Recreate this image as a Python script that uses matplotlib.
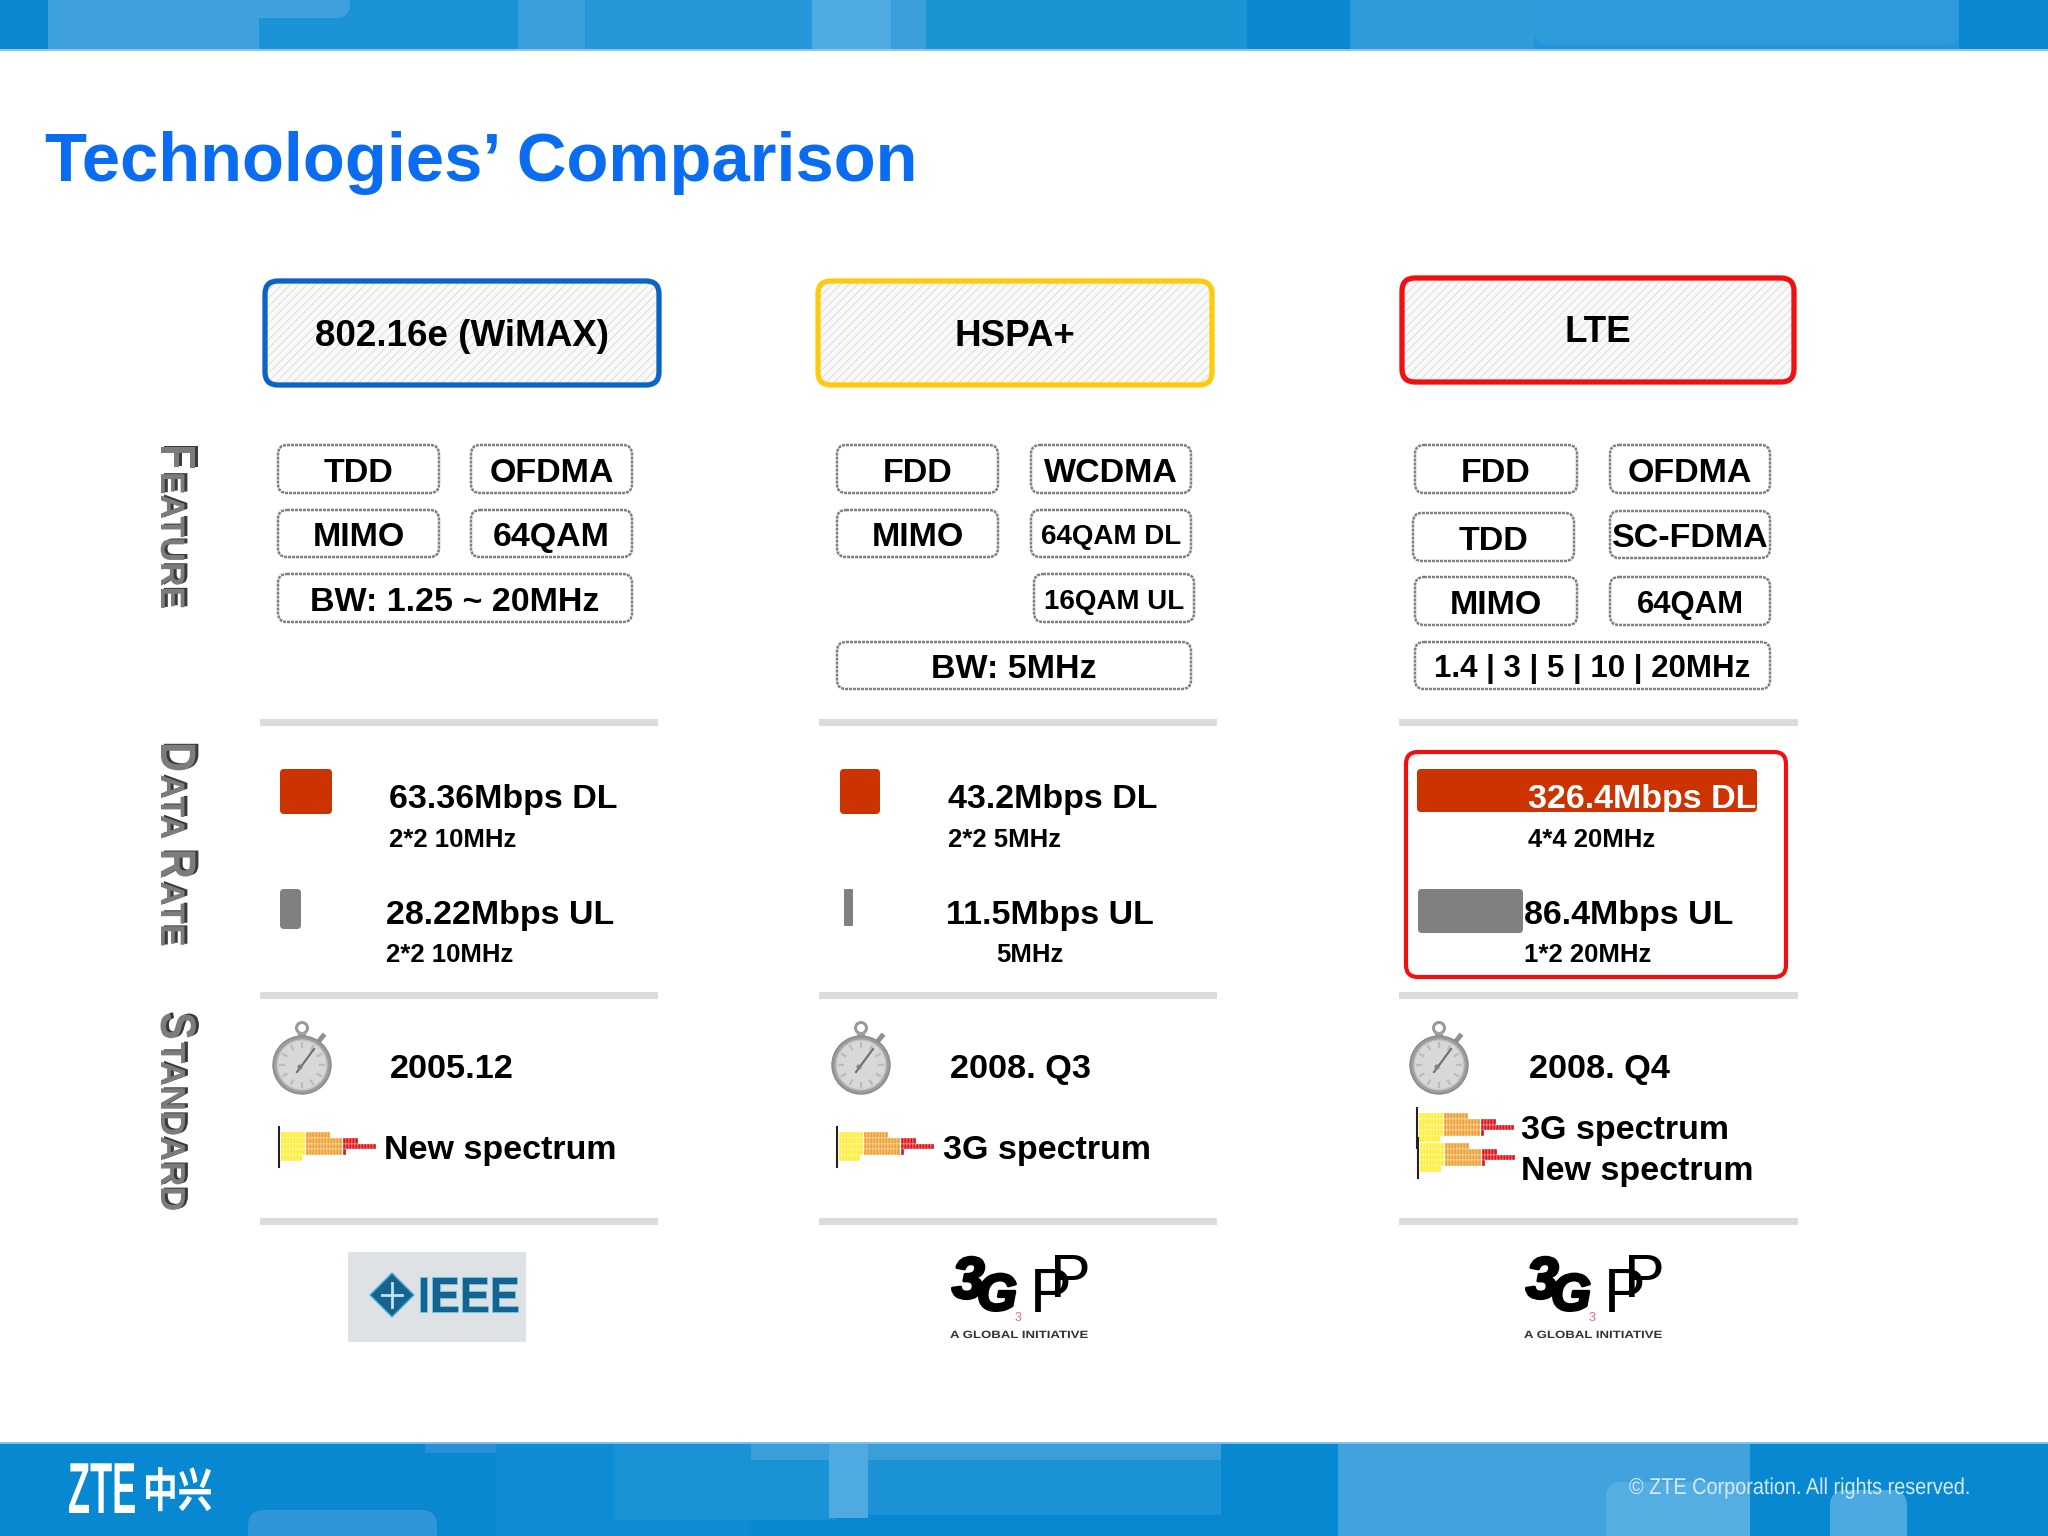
"""
Technologies' Comparison slide (WiMAX / HSPA+ / LTE)
Everything is laid out in image pixels, y pointing down
"""

import math
import matplotlib
matplotlib.use("Agg")
import matplotlib.pyplot as plt
import matplotlib.patheffects as pe
from matplotlib.colors import to_rgba
from matplotlib.patches import Rectangle, FancyBboxPatch, Circle, RegularPolygon
from matplotlib.transforms import Affine2D

# ---- data ----
title = "Technologies\u2019 Comparison"
columns = ["802.16e (WiMAX)", "HSPA+", "LTE"]
column_colors = ["#0a64c8", "#ffc90e", "#f01010"]

feature_labels = [
    ["TDD", "OFDMA", "MIMO", "64QAM", "BW: 1.25 ~ 20MHz"],
    ["FDD", "WCDMA", "MIMO", "64QAM DL", "16QAM UL", "BW: 5MHz"],
    ["FDD", "OFDMA", "TDD", "SC-FDMA", "MIMO", "64QAM", "1.4 | 3 | 5 | 10 | 20MHz"],
]
feature_sizes = [
    [24.5, 24.5, 24.5, 24.5, 24.5],
    [24.5, 24.5, 24.5, 20, 20, 24.5],
    [24.5, 24.5, 24.5, 24.5, 24.5, 22.4, 22.5],
]

dl_rates = ["63.36Mbps DL", "43.2Mbps DL", "326.4Mbps DL"]
dl_notes = ["2*2 10MHz", "2*2 5MHz", "4*4 20MHz"]
ul_rates = ["28.22Mbps UL", "11.5Mbps UL", "86.4Mbps UL"]
ul_notes = ["2*2 10MHz", "5MHz", "1*2 20MHz"]
# bar lengths as drawn on the slide (px), they are not to scale with the rates
dl_bar_len = [52, 40, 340]
ul_bar_len = [21, 9, 105]

dates = ["2005.12", "2008. Q3", "2008. Q4"]
spectrum_text = [["New spectrum"], ["3G spectrum"], ["3G spectrum", "New spectrum"]]

# spectrum icon, number of cells per row
spectrum_yellow = [8, 8, 8, 8, 7]
spectrum_orange = [8, 12, 12, 12, 0]
spectrum_red = [0, 5, 11, 1, 0]

side_labels = [
    [("F", True), ("EATURE", False)],
    [("D", True), ("ATA", False), (" ", False), ("R", True), ("ATE", False)],
    [("S", True), ("TANDARD", False)],
]

# ---- layout ----
W, H = 2048, 1536
FONT = "Liberation Sans"
BLUE_TITLE = "#0a6cf0"
DL_RED = "#cc3300"
UL_GREY = "#808080"

head_boxes = [(265, 659, 281, 385), (818, 1212, 281, 385), (1402, 1794, 278, 382)]
head_text_y = [333, 333, 329]
feature_boxes = [
    [(278, 439, 445, 493), (471, 632, 445, 493), (278, 439, 510, 557), (471, 632, 510, 557),
     (278, 632, 574, 622)],
    [(837, 998, 445, 493), (1031, 1191, 445, 493), (837, 998, 510, 557), (1031, 1191, 510, 557),
     (1034, 1194, 574, 622), (837, 1191, 642, 689)],
    [(1415, 1577, 445, 493), (1610, 1770, 445, 493), (1413, 1574, 513, 561), (1610, 1770, 511, 558),
     (1415, 1577, 577, 625), (1610, 1770, 577, 625), (1415, 1770, 642, 689)],
]
divider_x = [(260, 658), (819, 1217), (1399, 1798)]
divider_y = [722, 995, 1221]

dl_bar = [(280, 769, 45), (840, 769, 45), (1417, 769, 43)]
ul_bar = [(280, 889, 40), (844, 889, 37), (1418, 889, 44)]
dl_text_x = [389, 948, 1528]
ul_text_x = [386, 946, 1524]
ul_note_x = [386, 996, 1524]
date_x = [390, 950, 1529]
watch_xy = [(302, 1065), (861, 1065), (1439, 1065)]
spectrum_text_xy = [[(384, 1159)], [(943, 1159)], [(1521, 1139), (1521, 1180)]]
spectrum_icon_xy = [[(279, 1127)], [(837, 1127)], [(1417, 1108), (1418, 1138)]]
side_start_y = [444, 742, 1012]
side_small_size = [24.5, 24.5, 25.0]

# (x0, x1, y0, y1, colour)
header_panels = [
    (48, 259, 0, 49, "#3ea0dc"), (259, 518, 0, 49, "#1c93d6"), (518, 585, 0, 49, "#3a9edb"),
    (585, 812, 0, 49, "#2697d9"), (812, 891, 0, 49, "#4eaae0"), (891, 926, 0, 49, "#3a9edb"),
    (926, 1247, 0, 49, "#1c93d3"), (1350, 1534, 0, 49, "#2f9cd9"), (1534, 1959, 0, 49, "#2095d8"),
]
header_round = [(230, 350, -30, 18, "#3ea0dc"), (1534, 1959, -30, 45, "#2d9bda")]
footer_panels = [
    (425, 496, 1443, 1453, "#2a8fd6"), (496, 751, 1443, 1536, "#0e8cd4"), (614, 836, 1443, 1520, "#1a93d6"),
    (751, 1221, 1443, 1460, "#3a9edb"), (868, 1221, 1460, 1515, "#1c93d6"), (829, 868, 1443, 1518, "#4eaae0"),
    (1338, 1750, 1443, 1536, "#41a3de"),
]
footer_round = [(248, 437, 1510, 1560, "#2f96d8"), (1606, 1750, 1482, 1560, "#55aee2"),
                (1830, 1907, 1490, 1560, "#4caae0")]

fig = plt.figure(figsize=(W / 100, H / 100), dpi=100, facecolor="white")
ax = fig.add_axes([0, 0, 1, 1])
ax.set_xlim(0, W)
ax.set_ylim(H, 0)
ax.axis("off")
plt.rcParams["hatch.linewidth"] = 0.7


class Stretch(pe.AbstractPathEffect):
    """Scale the glyphs of a text, with an optional offset shadow or outline."""

    def __init__(self, sx=1.0, sy=1.0, shadow=None, shift=(3, 2), stroke=None, stroke_w=2.0):
        super().__init__()
        self.sx, self.sy = sx, sy
        self.shadow, self.shift = shadow, shift
        self.stroke, self.stroke_w = stroke, stroke_w

    def draw_path(self, renderer, gc, tpath, affine, rgbFace=None):
        base = Affine2D().scale(self.sx, self.sy) + affine
        if self.shadow:
            moved = base + Affine2D().translate(*self.shift)
            renderer.draw_path(gc, tpath, moved, to_rgba(self.shadow))
        if self.stroke:
            gc0 = renderer.new_gc()
            gc0.copy_properties(gc)
            gc0.set_foreground(self.stroke)
            gc0.set_linewidth(self.stroke_w)
            renderer.draw_path(gc0, tpath, base, rgbFace)
            gc0.restore()
        renderer.draw_path(gc, tpath, base, rgbFace)


def rect(x0, x1, y0, y1, color, z=1):
    ax.add_patch(Rectangle((x0, y0), x1 - x0, y1 - y0, facecolor=color, edgecolor="none", zorder=z))


def rbox(x0, x1, y0, y1, r, **kw):
    patch = FancyBboxPatch((x0, y0), x1 - x0, y1 - y0,
                           boxstyle=f"round,pad=0,rounding_size={r}", **kw)
    ax.add_patch(patch)
    return patch


def label(x, y, s, size, color="black", ha="left", **kw):
    return ax.text(x, y, s, fontsize=size, color=color, ha=ha, va="baseline",
                   family=FONT, fontweight="bold", zorder=6, **kw)


def centred(x, y_mid, s, size):
    # baseline from cap height, so descenders do not shift the label
    label(x, y_mid + 0.345 * size * 100 / 72 + 1, s, size, ha="center")


def stopwatch(cx, cy):
    ax.add_patch(Circle((cx, cy - 37), 5.5, facecolor="none", edgecolor="#9a9a9a", lw=2.2, zorder=3))
    rect(cx - 4, cx + 4, cy - 33, cy - 26, "#a0a0a0", 3)
    ax.plot([cx + 17, cx + 21], [cy - 24, cy - 29], color="#909090", lw=3.5, zorder=3)
    ax.add_patch(Circle((cx, cy), 29, facecolor="#9c9c9c", edgecolor="#8a8a8a", lw=1, zorder=3))
    ax.add_patch(Circle((cx, cy), 25, facecolor="#d8d8d8", edgecolor="#c0c0c0", lw=1, zorder=4))
    for k in range(12):
        a = k * math.pi / 6
        ax.plot([cx + 18 * math.cos(a), cx + 22 * math.cos(a)],
                [cy + 18 * math.sin(a), cy + 22 * math.sin(a)],
                color="#bcbcbc", lw=1.6, zorder=4)
    ax.plot([cx - 5, cx + 12], [cy + 7, cy - 16], color="#6e6e6e", lw=1.5, zorder=5)
    ax.add_patch(Circle((cx - 2, cy + 2), 2.5, facecolor="#808080", edgecolor="none", zorder=5))


def spectrum_icon(x, y):
    ax.plot([x, x], [y, y + 40], color="#222222", lw=1.5, zorder=4)
    cell_w, cell_h = 3.0, 5.8
    for i, (n_y, n_o, n_r) in enumerate(zip(spectrum_yellow, spectrum_orange, spectrum_red)):
        top = y + 5 + i * cell_h
        cx = x + 2
        for n, col in ((n_y, "#ffee33"), (n_o, "#eea030"), (n_r, "#e01015")):
            for _ in range(n):
                ax.add_patch(Rectangle((cx, top), cell_w, cell_h, facecolor=col,
                                       edgecolor="white", lw=0.25, zorder=3))
                cx += cell_w
            if n:
                cx += 1


def logo_3gpp(dx):
    heavy = [Stretch(stroke="black", stroke_w=2.2)]
    ax.text(952 + dx, 1298, "3", fontsize=42, family=FONT, fontweight="bold", style="italic",
            path_effects=heavy, zorder=5)
    ax.text(977 + dx, 1310, "G", fontsize=37, family=FONT, fontweight="bold", style="italic",
            path_effects=heavy, zorder=5)
    ax.text(1030 + dx, 1312, "P", fontsize=45, family=FONT, zorder=5)
    ax.text(1050 + dx, 1297, "P", fontsize=44, family=FONT, zorder=5)
    ax.text(1018 + dx, 1321, "3", fontsize=9, family=FONT, color="#e06a80", ha="center", zorder=6)
    ax.text(950 + dx, 1338, "A GLOBAL INITIATIVE", fontsize=7.6, family=FONT, fontweight="bold",
            color="#333333", path_effects=[Stretch(sx=1.25)], zorder=5)


# ---- bands ----
rect(0, W, 0, 49, "#0a88d2")
for x0, x1, y0, y1, c in header_panels:
    rect(x0, x1, y0, y1, c, 2)
for x0, x1, y0, y1, c in header_round:
    rbox(x0, x1, y0, y1, 14, facecolor=c, edgecolor="none", zorder=2)
rect(0, W, 49, 51, "#8cc8ec", 2)

rect(0, W, 1443, H, "#0788d1")
for x0, x1, y0, y1, c in footer_panels:
    rect(x0, x1, y0, y1, c, 2)
for x0, x1, y0, y1, c in footer_round:
    rbox(x0, x1, y0, y1, 16, facecolor=c, edgecolor="none", zorder=2)
rect(0, W, 1442, 1444, "#7fc3ea", 2)

ax.text(68, 1513, "ZTE", fontsize=26, color="white", family=FONT, fontweight="bold",
        path_effects=[Stretch(sy=2.0)], zorder=6)
ax.text(143, 1507, "\u4e2d\u5174", fontsize=25, color="white", family="Noto Sans CJK SC",
        fontweight="bold", path_effects=[Stretch(sy=1.35)], zorder=6)
ax.text(1629, 1494, "\u00a9 ZTE Corporation. All rights reserved.", fontsize=14.3, color="#d5e9f6",
        family=FONT, path_effects=[Stretch(sy=1.15)], zorder=6)

ax.text(45, 181, title, fontsize=49.5, color=BLUE_TITLE, family=FONT, fontweight="bold", zorder=6)

# ---- side labels, small caps built from two sizes ----
renderer = fig.canvas.get_renderer()
for runs, y_start, small in zip(side_labels, side_start_y, side_small_size):
    y = y_start
    for run, big in runs:
        if run == " ":
            y += 7
            continue
        effect = Stretch(sy=1.2 if big else 1.0, shadow="#3a3a3a", shift=(3, 1))
        t = ax.text(161, y, run, fontsize=30 if big else small, color="#7c7c7c", family=FONT,
                    fontweight="bold", rotation=270, rotation_mode="anchor", ha="left",
                    va="baseline", path_effects=[effect], zorder=6)
        y += t.get_window_extent(renderer).height + 2.5

# ---- columns ----
for i, name in enumerate(columns):
    x0, x1, y0, y1 = head_boxes[i]
    rbox(x0, x1, y0, y1, 13, facecolor="#fafafa", edgecolor="#dcdcdc", hatch="////", lw=0, zorder=2)
    rbox(x0, x1, y0, y1, 13, facecolor="none", edgecolor=column_colors[i], lw=3.8, zorder=3)
    centred((x0 + x1) / 2, head_text_y[i] - 1, name, 26.5)

    for box, text, size in zip(feature_boxes[i], feature_labels[i], feature_sizes[i]):
        bx0, bx1, by0, by1 = box
        rbox(bx0, bx1, by0, by1, 9, facecolor="white", edgecolor="#808080", lw=1.8,
             linestyle=(0, (1.2, 0.4)), zorder=2)
        centred((bx0 + bx1) / 2, (by0 + by1) / 2, text, size)

    for y in divider_y:
        rect(divider_x[i][0], divider_x[i][1], y - 3.5, y + 3.5, "#dcdcdc")

    bx, by, bh = dl_bar[i]
    rbox(bx, bx + dl_bar_len[i], by, by + bh, 4, facecolor=DL_RED, edgecolor="none", zorder=3)
    bx, by, bh = ul_bar[i]
    rbox(bx, bx + ul_bar_len[i], by, by + bh, 4 if i != 1 else 1, facecolor=UL_GREY, edgecolor="none", zorder=3)

    label(dl_text_x[i], 808, dl_rates[i], 24.5, color="white" if i == 2 else "black")
    label(dl_text_x[i], 847, dl_notes[i], 18.5)
    label(ul_text_x[i], 924, ul_rates[i], 24.5)
    label(ul_note_x[i], 962, ul_notes[i], 18.5)

    stopwatch(*watch_xy[i])
    label(date_x[i], 1078, dates[i], 24.7)
    for (tx, ty), s in zip(spectrum_text_xy[i], spectrum_text[i]):
        label(tx, ty, s, 24.5)
    for ix, iy in spectrum_icon_xy[i]:
        spectrum_icon(ix, iy)

rbox(1406, 1786, 752, 977, 12, facecolor="none", edgecolor="#f01010", lw=3, zorder=4)

# ---- logos ----
rect(348, 526, 1252, 1342, "#dfe2e4")
ax.add_patch(RegularPolygon((392, 1295), 4, radius=22, facecolor="#17638f", edgecolor="#4ab0dc",
                            lw=1, zorder=3))
ax.plot([392, 392], [1283, 1307], color="#bfe4f2", lw=2, zorder=4)
ax.plot([382, 402], [1295, 1295], color="#bfe4f2", lw=2, zorder=4)
ax.text(418, 1312, "IEEE", fontsize=32, color="#17638f", family=FONT, fontweight="bold",
        path_effects=[Stretch(sy=1.1, stroke="#6fc4e6", stroke_w=1.5)], zorder=4)
logo_3gpp(0)
logo_3gpp(574)

fig.savefig("out.png", dpi=100)
